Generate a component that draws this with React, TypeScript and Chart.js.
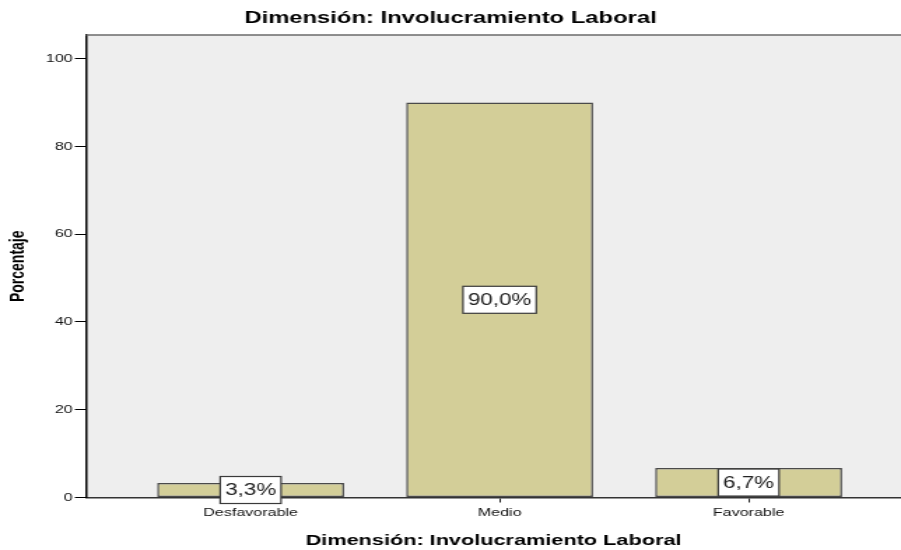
import { useEffect, useRef } from 'react';
import { Chart, registerables } from 'chart.js';

Chart.register(...registerables);

// ---- data ----
const categories = ['Desfavorable', 'Medio', 'Favorable'];
const percentages = [3.3, 90.0, 6.7];
const yTickValues = [0, 20, 40, 60, 80, 100];
const chartTitle = 'Dimensión: Involucramiento Laboral';
const xAxisTitle = 'Dimensión: Involucramiento Laboral';
const yAxisTitle = 'Porcentaje';

// ---- layout (the reference is horizontally stretched) ----
const W = 644;
const H = 550;
const STRETCH = 901 / W;
const FONT = "'Liberation Sans', Arial, Helvetica, sans-serif";

const plotFramePlugin = {
  id: 'plotFrame',
  beforeDraw(chart: any) {
    const { ctx, chartArea } = chart;
    const { left, top, right, bottom } = chartArea;
    ctx.save();
    ctx.fillStyle = '#eeeeee';
    ctx.fillRect(left, top, right - left, bottom - top);
    ctx.restore();
  },
  beforeDatasetsDraw(chart: any) {
    const { ctx, chartArea } = chart;
    const { left, top, right } = chartArea;
    ctx.save();
    ctx.strokeStyle = '#6a6a6a';
    ctx.lineWidth = 1.5;
    ctx.beginPath();
    ctx.moveTo(left, top);
    ctx.lineTo(right, top);
    ctx.stroke();
    ctx.restore();
  },
};

const boxLabelPlugin = {
  id: 'boxLabels',
  afterDatasetsDraw(chart: any) {
    const meta = chart.getDatasetMeta(0);
    const ctx = chart.ctx;
    ctx.save();
    ctx.font = `16px ${FONT}`;
    ctx.textAlign = 'center';
    ctx.textBaseline = 'middle';
    meta.data.forEach((el: any, i: number) => {
      const v = percentages[i];
      const text = v.toFixed(1).replace('.', ',') + '%';
      const { x, y, base } = el.getProps(['x', 'y', 'base'], true);
      const yc = (y + base) / 2;
      const w = ctx.measureText(text).width + 7;
      const h = 27;
      ctx.fillStyle = '#ffffff';
      ctx.fillRect(x - w / 2, yc - h / 2, w, h);
      ctx.strokeStyle = '#3a3a3a';
      ctx.lineWidth = 1.2;
      ctx.strokeRect(x - w / 2, yc - h / 2, w, h);
      ctx.fillStyle = '#222222';
      ctx.fillText(text, x, yc + 1);
    });
    ctx.restore();
  },
};

export default function App() {
  const canvasRef = useRef<HTMLCanvasElement | null>(null);

  useEffect(() => {
    if (!canvasRef.current) return;
    const chart = new Chart(canvasRef.current, {
      type: 'bar',
      data: {
        datasets: [
          {
            label: yAxisTitle,
            data: percentages.map((v, i) => ({ x: i, y: v })),
            backgroundColor: '#d3ce98',
            borderColor: '#4a4a4a',
            borderWidth: 1.5,
            borderSkipped: false,
            barPercentage: 0.751,
            categoryPercentage: 1,
          },
        ],
      },
      options: {
        responsive: false,
        devicePixelRatio: 1,
        animation: false,
        layout: { padding: 0 },
        plugins: {
          legend: { display: false },
          tooltip: { enabled: false },
          title: {
            display: true,
            text: chartTitle,
            color: '#000',
            font: { size: 17, weight: 'bold', family: FONT },
            padding: { top: 8, bottom: 6.6 },
          },
        },
        scales: {
          x: {
            type: 'linear',
            min: -0.661,
            max: 2.612,
            offset: false,
            afterBuildTicks: (s: any) => {
              s.ticks = categories.map((_, i) => ({ value: i }));
            },
            afterFit: (s: any) => {
              s.height = 52.5;
            },
            grid: {
              offset: false,
              drawOnChartArea: false,
              drawTicks: true,
              tickLength: 5,
              color: '#222',
              lineWidth: 1,
            },
            border: { display: true, color: '#333', width: 1.5 },
            ticks: {
              callback: (v: any) => categories[v] ?? '',
              font: { size: 11.5, family: FONT },
              color: '#111',
              padding: 3,
              maxRotation: 0,
              autoSkip: false,
            },
            title: {
              display: true,
              text: xAxisTitle,
              color: '#000',
              font: { size: 15.5, weight: 'bold', family: FONT },
              padding: { top: 4, bottom: 0 },
            },
          },
          y: {
            type: 'linear',
            min: 0,
            max: 105.4,
            afterBuildTicks: (s: any) => {
              s.ticks = yTickValues.map((v) => ({ value: v }));
            },
            afterFit: (s: any) => {
              s.width = 61.5;
            },
            grid: {
              drawOnChartArea: false,
              drawTicks: true,
              tickLength: 8,
              color: '#000',
              lineWidth: 1,
            },
            border: { display: true, color: '#000', width: 1.5 },
            ticks: {
              font: { size: 11.5, family: FONT },
              color: '#111',
              padding: 1.5,
            },
            title: {
              display: true,
              text: yAxisTitle,
              color: '#000',
              font: { size: 14, weight: 'bold', family: FONT },
              padding: { top: 4.8, bottom: 0 },
            },
          },
        },
      } as any,
      plugins: [plotFramePlugin, boxLabelPlugin],
    });
    return () => chart.destroy();
  }, []);

  return (
    <div
      style={{
        position: 'absolute',
        left: 0,
        top: 0,
        width: 901,
        height: 550,
        overflow: 'hidden',
        background: '#ffffff',
      }}
    >
      <canvas
        ref={canvasRef}
        width={W}
        height={H}
        style={{
          display: 'block',
          width: W,
          height: H,
          transform: `scaleX(${STRETCH})`,
          transformOrigin: '0 0',
        }}
      />
    </div>
  );
}
